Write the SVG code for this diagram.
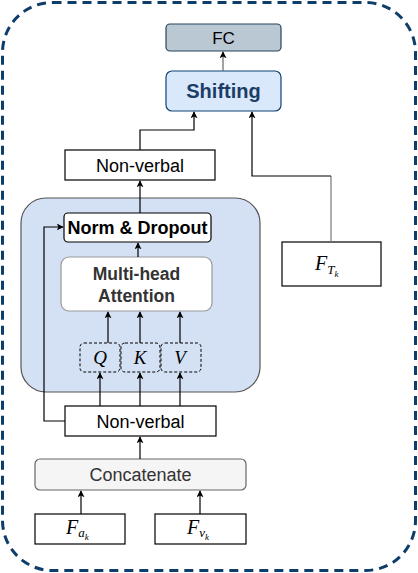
<svg xmlns="http://www.w3.org/2000/svg" width="418" height="573" viewBox="0 0 418 573">
<defs>
<marker id="arr" viewBox="0 0 10 10" refX="9" refY="5" markerWidth="7" markerHeight="7" orient="auto" markerUnits="userSpaceOnUse">
<path d="M0,0 L10,5 L0,10 L2.5,5 z" fill="#000"/>
</marker>
<style>
.box{fill:#fff;stroke:#000;stroke-width:1.2}
.t{font-family:"Liberation Sans",Arial,sans-serif;font-size:18px;text-anchor:middle;fill:#000}
.b{font-weight:bold}
.m{font-family:"Liberation Serif","Times New Roman",serif;font-style:italic;fill:#000}
.c{fill:none;stroke:#000;stroke-width:1.2;marker-end:url(#arr)}
.g{stroke:#666}
</style>
</defs>
<rect x="2.5" y="2.5" width="413" height="568" rx="50" fill="#fff" stroke="#0f3d6a" stroke-width="3" stroke-dasharray="9 6"/>
<g id="attention-block">
<rect x="21" y="198" width="239" height="194" rx="25" fill="#d4e1f5" stroke="#555" stroke-width="1.2"/>
</g>
<g id="fc">
<rect x="166" y="24" width="115" height="27" rx="4" fill="#bac8d3" stroke="#23445d" stroke-width="1.2"/>
<text class="t" x="223.5" y="44" style="font-size:17px">FC</text>
</g>
<g id="shifting">
<rect x="166" y="71" width="115" height="40" rx="6" fill="#dae8fc" stroke="#0e4275" stroke-width="1.2"/>
<text class="t b" x="223.5" y="98" style="font-size:20px;fill:#1b3d66">Shifting</text>
</g>
<g id="nonverbal-top">
<rect class="box" x="65" y="150" width="150" height="30"/>
<text class="t" x="140" y="171.5">Non-verbal</text>
</g>
<g id="norm-dropout">
<rect class="box" x="64" y="213" width="147" height="29" rx="4"/>
<text class="t b" x="137.5" y="234">Norm &amp; Dropout</text>
</g>
<g id="multihead">
<rect x="61" y="257" width="151" height="54" rx="8" fill="#fff" stroke="#999" stroke-width="1.2"/>
<text class="t b" x="136.5" y="280" style="font-size:17.5px;fill:#333">Multi-head</text>
<text class="t b" x="136.5" y="302" style="font-size:17.5px;fill:#333">Attention</text>
</g>
<g id="q">
<rect x="80" y="343" width="40" height="29" rx="4" fill="none" stroke="#000" stroke-width="1" stroke-dasharray="3 2"/>
<text class="m" x="100" y="364" text-anchor="middle" font-size="19">Q</text>
</g>
<g id="k">
<rect x="121" y="343" width="39" height="29" rx="4" fill="none" stroke="#000" stroke-width="1" stroke-dasharray="3 2"/>
<text class="m" x="140" y="364" text-anchor="middle" font-size="19">K</text>
</g>
<g id="v">
<rect x="161" y="343" width="40" height="29" rx="4" fill="none" stroke="#000" stroke-width="1" stroke-dasharray="3 2"/>
<text class="m" x="180" y="364" text-anchor="middle" font-size="19">V</text>
</g>
<g id="ftk">
<rect class="box" x="282" y="242" width="99" height="44"/>
<text class="m" x="315" y="270" font-size="20">F<tspan font-size="13" dy="4">T</tspan><tspan font-size="9" dy="3">k</tspan></text>
</g>
<g id="nonverbal-bottom">
<rect class="box" x="65" y="406" width="151" height="30"/>
<text class="t" x="140.5" y="427.5">Non-verbal</text>
</g>
<g id="concatenate">
<rect x="35" y="459" width="211" height="31" rx="5" fill="#f5f5f5" stroke="#666" stroke-width="1.2"/>
<text class="t" x="140.5" y="481" style="fill:#333">Concatenate</text>
</g>
<g id="fak">
<rect class="box" x="35" y="514" width="90" height="30"/>
<text class="m" x="66" y="534" font-size="20">F<tspan font-size="13" dy="3">a</tspan><tspan font-size="9" dy="3">k</tspan></text>
</g>
<g id="fvk">
<rect class="box" x="155" y="514" width="91" height="30"/>
<text class="m" x="187" y="534" font-size="20">F<tspan font-size="13" dy="3">v</tspan><tspan font-size="9" dy="3">k</tspan></text>
</g>
<g id="connectors">
<path class="c g" d="M223,71 V52"/>
<path class="c" d="M140,150 V130 H194 V112"/>
<path fill="none" stroke="#777" stroke-width="1.2" d="M331,242 V176"/>
<path class="c" d="M331,176 H252 V112"/>
<path class="c" d="M140,213 V181"/>
<path class="c" d="M138,257 V243"/>
<path class="c" d="M108,343 V312"/>
<path class="c" d="M140,343 V312"/>
<path class="c" d="M180,343 V312"/>
<path class="c" d="M100,406 V373"/>
<path class="c" d="M140,406 V373"/>
<path class="c" d="M180,406 V373"/>
<path class="c" d="M65,421 H44 V227 H63"/>
<path class="c" d="M140,459 V437"/>
<path class="c" d="M81,514 V491"/>
<path class="c" d="M200,514 V491"/>
</g>
</svg>
